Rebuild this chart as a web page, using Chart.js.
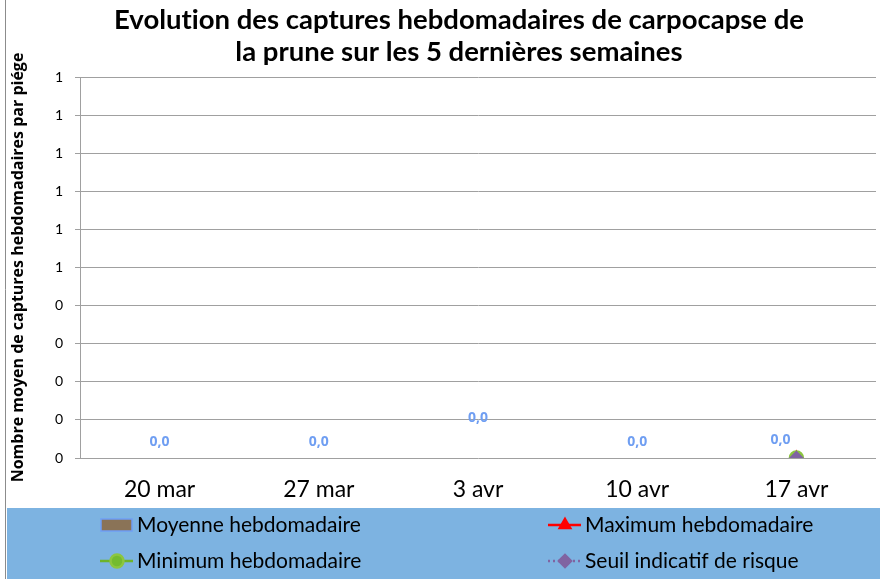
<!DOCTYPE html>
<html>
<head>
<meta charset="utf-8">
<script src="https://cdn.jsdelivr.net/npm/chart.js@4.4.1/dist/chart.umd.min.js"></script>
<style>
  html, body { margin: 0; padding: 0; background: #fff; }
  #wrap { width: 880px; height: 579px; }
</style>
</head>
<body>
<div id="wrap"><canvas id="chart" width="880" height="579"></canvas></div>
<script>
// weekly data
const weeks = ["20 mar", "27 mar", "3 avr", "10 avr", "17 avr"];
const moyenne = [0, 0, 0, 0, 0];
const maximum = [null, null, null, null, 0];
const minimum = [null, null, null, null, 0];
const seuil = [null, null, null, null, 0];
const yTickLabels = ["0", "0", "0", "0", "0", "1", "1", "1", "1", "1", "1"];

const titleLines = [
  "Evolution des captures hebdomadaires de carpocapse de",
  "la prune sur les 5 dernières semaines"
];
const FONT = "Lato, 'Open Sans', sans-serif";
const FONT_ALT = "'Open Sans', sans-serif";

// little nudges for the value labels so they don't sit on the markers
const labelNudge = [
  { dx: 0, dy: -16 },
  { dx: 0, dy: -16 },
  { dx: 0, dy: -40 },
  { dx: 0, dy: -16 },
  { dx: -16, dy: -18 }
];

const backdrop = {
  id: "backdrop",
  beforeDraw(chart) {
    const ctx = chart.ctx;
    ctx.save();
    ctx.fillStyle = "#fff";
    ctx.fillRect(0, 0, chart.width, chart.height);
    ctx.strokeStyle = "#8c8c8c";
    ctx.lineWidth = 1;
    ctx.beginPath();
    ctx.moveTo(5.5, 0);
    ctx.lineTo(5.5, chart.height);
    ctx.stroke();

    ctx.fillStyle = "#000";
    ctx.font = "bold 27.5px " + FONT;
    ctx.textAlign = "center";
    ctx.textBaseline = "alphabetic";
    // zero-width non-joiner keeps Lato from using its "ti" ligature
    ctx.fillText(titleLines[0].replace(/ti/g, "t\u200Ci"), 459, 29);
    ctx.fillText(titleLines[1], 459, 61);
    ctx.restore();
  }
};

const valueLabels = {
  id: "valueLabels",
  afterDatasetsDraw(chart) {
    const ctx = chart.ctx;
    const meta = chart.getDatasetMeta(0);
    ctx.save();
    ctx.fillStyle = "#6f9ef2";
    ctx.font = "bold 14px " + FONT_ALT;
    ctx.textAlign = "center";
    ctx.textBaseline = "middle";
    meta.data.forEach((bar, i) => {
      const v = chart.data.datasets[0].data[i];
      const n = labelNudge[i];
      ctx.fillText(v.toFixed(1).replace(".", ","), bar.x + n.dx, bar.y + n.dy);
    });
    ctx.restore();
  }
};

// legend drawn in a blue band under the axis
const legendBand = {
  id: "legendBand",
  afterDraw(chart) {
    const ctx = chart.ctx;
    const slots = [
      { x: 101, y: 525 },
      { x: 549, y: 525 },
      { x: 101, y: 561 },
      { x: 549, y: 561 }
    ];
    ctx.save();
    ctx.fillStyle = "#7db3e1";
    ctx.fillRect(7, 508, 873, 71);
    chart.data.datasets.forEach((ds, i) => {
      const s = slots[i];
      if (ds.type === "bar") {
        ctx.fillStyle = ds.backgroundColor;
        ctx.fillRect(s.x, s.y - 6, 31, 12);
        ctx.strokeStyle = ds.borderColor;
        ctx.lineWidth = 1.5;
        ctx.strokeRect(s.x, s.y - 6, 31, 12);
      } else {
        ctx.strokeStyle = ds.borderColor;
        ctx.lineWidth = 2.5;
        ctx.setLineDash(ds.borderDash || []);
        ctx.beginPath();
        ctx.moveTo(s.x - 1, s.y);
        ctx.lineTo(s.x + 32, s.y);
        ctx.stroke();
        ctx.setLineDash([]);
        ctx.fillStyle = ds.pointBackgroundColor;
        ctx.strokeStyle = ds.pointBorderColor;
        Chart.helpers.drawPoint(ctx, {
          pointStyle: ds.pointStyle,
          radius: ds.pointRadius,
          rotation: 0,
          borderWidth: 1
        }, s.x + 16, s.y);
      }
      ctx.fillStyle = "#000";
      ctx.font = "21px " + FONT;
      ctx.textAlign = "left";
      ctx.textBaseline = "middle";
      ctx.fillText(ds.label, s.x + 36, s.y);
    });
    ctx.restore();
  }
};

new Chart(document.getElementById("chart"), {
  data: {
    labels: weeks,
    datasets: [
      {
        type: "bar",
        label: "Moyenne hebdomadaire",
        data: moyenne,
        backgroundColor: "#8a7357",
        borderColor: "#6f9ef5",
        borderWidth: 1,
        order: 4
      },
      {
        type: "line",
        label: "Maximum hebdomadaire",
        data: maximum,
        borderColor: "#ff0000",
        borderWidth: 2.5,
        pointStyle: "triangle",
        pointRadius: 6,
        pointBackgroundColor: "#ff0000",
        pointBorderColor: "#ff0000",
        order: 3
      },
      {
        type: "line",
        label: "Minimum hebdomadaire",
        data: minimum,
        borderColor: "#6db32b",
        borderWidth: 2.5,
        pointStyle: "circle",
        pointRadius: 6.5,
        pointBackgroundColor: "#74bb2f",
        pointBorderColor: "#8cc63f",
        order: 2
      },
      {
        type: "line",
        label: "Seuil indicatif de risque",
        data: seuil,
        borderColor: "#8064a2",
        borderWidth: 2,
        borderDash: [2, 3],
        pointStyle: "rectRot",
        pointRadius: 6,
        pointBackgroundColor: "#8064a2",
        pointBorderColor: "#8064a2",
        order: 1
      }
    ]
  },
  options: {
    responsive: false,
    animation: false,
    layout: { autoPadding: false, padding: { left: 6, right: 4, top: 77, bottom: 70 } },
    plugins: {
      legend: { display: false },
      title: { display: false },
      tooltip: { enabled: false }
    },
    scales: {
      x: {
        grid: { display: false },
        border: { display: false },
        ticks: { color: "#000", font: { family: FONT, size: 23 }, padding: 10, maxRotation: 0 },
        afterFit(scale) { scale.height = 51; }
      },
      y: {
        min: 0,
        max: 1,
        ticks: {
          stepSize: 0.1,
          color: "#000",
          font: { family: FONT, size: 14 },
          padding: 12,
          callback: (v, i) => yTickLabels[i]
        },
        grid: { color: "#a0a0a0", tickLength: 5, lineWidth: 1 },
        border: { color: "#a0a0a0" },
        title: {
          display: true,
          text: "Nombre moyen de captures hebdomadaires par piége",
          color: "#000",
          font: { family: FONT_ALT, size: 16, weight: "bold" },
          padding: { top: 3, bottom: 0 }
        },
        afterFit(scale) { scale.width = 74; }
      }
    }
  },
  plugins: [backdrop, valueLabels, legendBand]
});
</script>
</body>
</html>
